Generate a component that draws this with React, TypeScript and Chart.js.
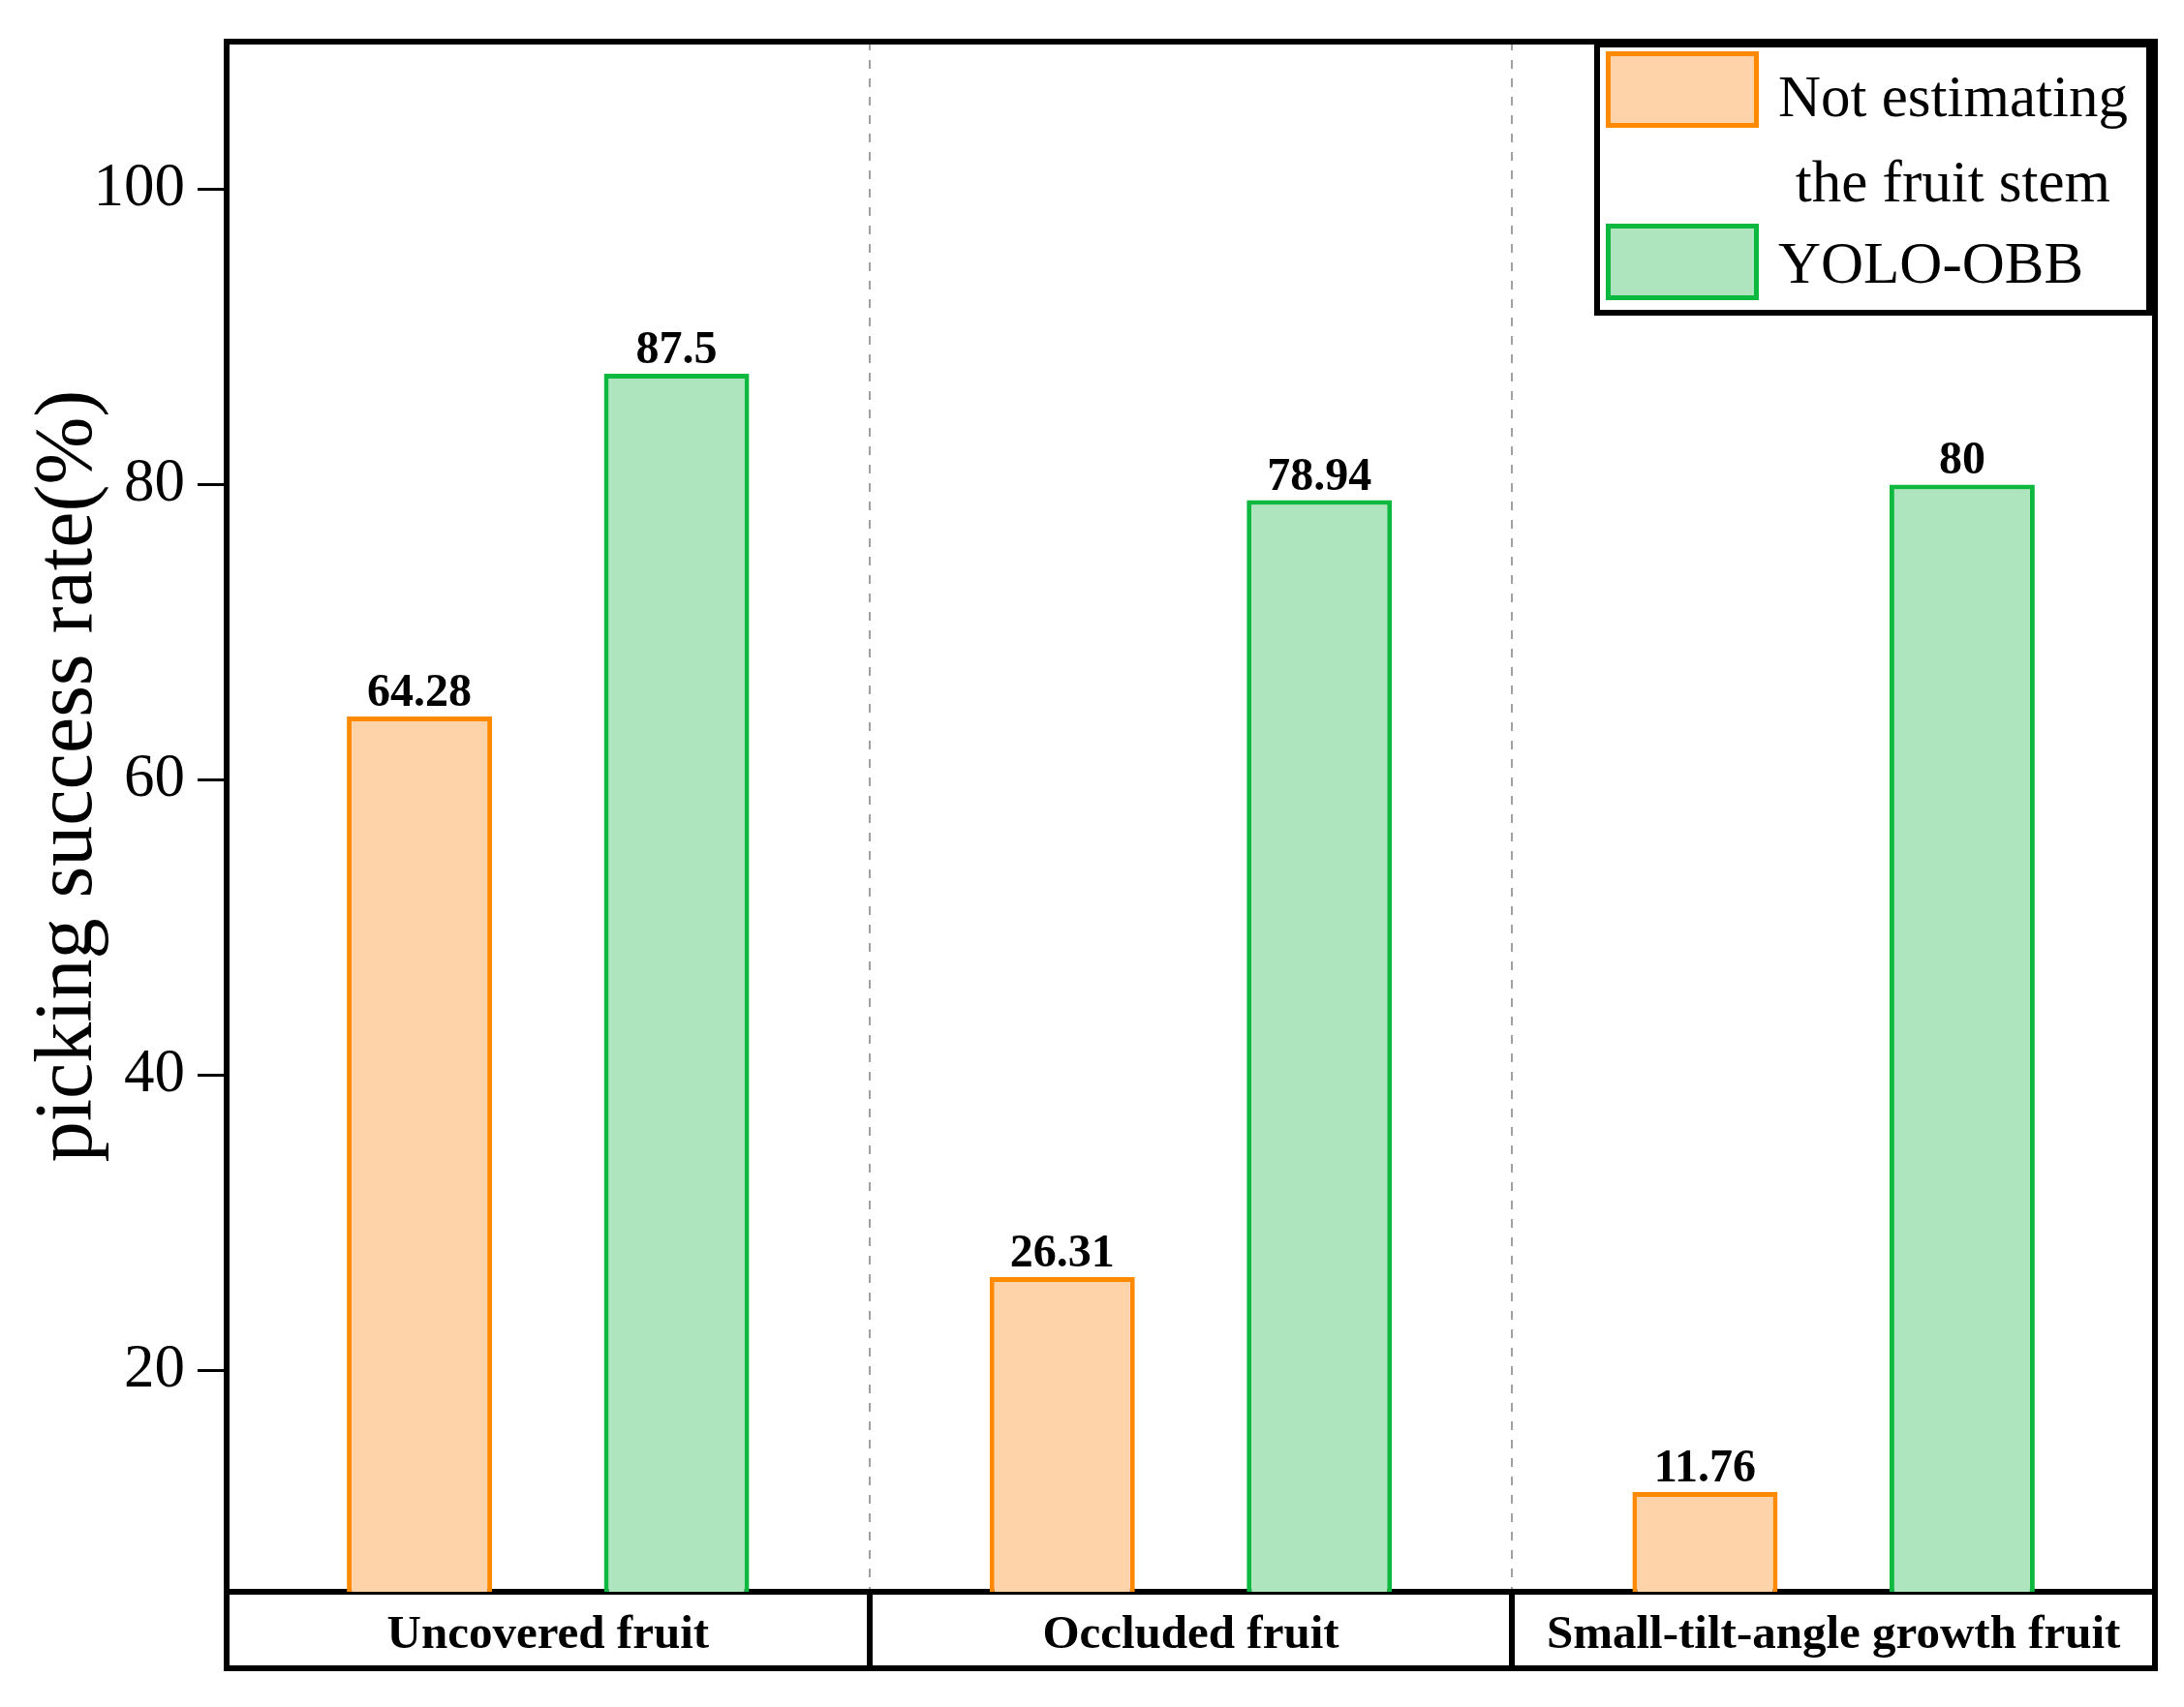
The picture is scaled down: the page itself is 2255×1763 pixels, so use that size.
import React, { useEffect, useRef } from "react";
import { Chart, registerables } from "chart.js";

Chart.register(...registerables);

// ---- data ----
const categories = ["Uncovered fruit", "Occluded fruit", "Small-tilt-angle growth fruit"];
const notEstimatingValues = [64.28, 26.31, 11.76];
const yoloObbValues = [87.5, 78.94, 80];
const seriesNames: string[][] = [["Not estimating", "the fruit stem"], ["YOLO-OBB"]];
const yTickValues = [20, 40, 60, 80, 100];
const yTitle = "picking success rate(%)";

const SERIF = "'Liberation Serif', 'Times New Roman', serif";
const ORANGE_BORDER = "#FF8A00";
const ORANGE_FILL = "#FED3AA";
const GREEN_BORDER = "#0DB83F";
const GREEN_FILL = "#AEE4BE";
const X_TICK_LEN = 79;

const framePlugin = {
  id: "frame",
  afterDraw(chart: any) {
    const { ctx, chartArea: a } = chart;
    const xs = chart.scales.x;
    const boxBottom = xs.top + X_TICK_LEN;
    ctx.save();
    ctx.strokeStyle = "#000";
    ctx.lineWidth = 6;
    ctx.lineCap = "square";
    ctx.beginPath();
    ctx.moveTo(a.left, a.top);
    ctx.lineTo(a.right, a.top);
    ctx.lineTo(a.right, boxBottom);
    ctx.lineTo(a.left, boxBottom);
    ctx.stroke();
    ctx.restore();
  },
};

const valueLabelPlugin = {
  id: "valueLabels",
  afterDatasetsDraw(chart: any) {
    const { ctx } = chart;
    ctx.save();
    ctx.fillStyle = "#000";
    ctx.font = `bold 48px ${SERIF}`;
    ctx.textAlign = "center";
    ctx.textBaseline = "alphabetic";
    chart.data.datasets.forEach((ds: any, di: number) => {
      const meta = chart.getDatasetMeta(di);
      meta.data.forEach((el: any, i: number) => {
        ctx.fillText(String(ds.data[i]), el.x, el.y - 11);
      });
    });
    ctx.restore();
  },
};

const legendPlugin = {
  id: "boxLegend",
  afterDraw(chart: any) {
    const { ctx, chartArea: a } = chart;
    const boxW = 570;
    const boxH = 277;
    const bx = a.right - 6 - boxW;
    const by = a.top + 3;
    ctx.save();
    ctx.fillStyle = "#fff";
    ctx.fillRect(bx, by, boxW, boxH);
    ctx.strokeStyle = "#000";
    ctx.lineWidth = 6;
    ctx.strokeRect(bx, by, boxW, boxH);
    const swX = bx + 9;
    const swW = 158;
    const swH = 79;
    const textX = swX + swW + 20;
    const rows = [
      { top: by + 7, baselines: [by + 74, by + 162] },
      { top: by + 185, baselines: [by + 246] },
    ];
    chart.data.datasets.forEach((ds: any, i: number) => {
      const r = rows[i];
      ctx.fillStyle = ds.backgroundColor;
      ctx.fillRect(swX, r.top, swW, swH);
      ctx.strokeStyle = ds.borderColor;
      ctx.lineWidth = 5;
      ctx.strokeRect(swX + 2.5, r.top + 2.5, swW - 5, swH - 5);
      ctx.fillStyle = "#000";
      ctx.font = `61px ${SERIF}`;
      ctx.textBaseline = "alphabetic";
      const lines = seriesNames[i];
      const widths = lines.map((l) => ctx.measureText(l).width);
      const maxW = Math.max(...widths);
      lines.forEach((l, li) => {
        ctx.textAlign = "left";
        const x = textX + (maxW - widths[li]) / 2;
        ctx.fillText(l, x, r.baselines[li]);
      });
    });
    ctx.restore();
  },
};

export default function App() {
  const ref = useRef<HTMLCanvasElement | null>(null);

  useEffect(() => {
    document.body.style.margin = "0";
    const canvas = ref.current;
    if (!canvas) return;
    const chart = new Chart(canvas, {
      type: "bar",
      data: {
        labels: categories,
        datasets: [
          {
            label: seriesNames[0].join(" "),
            data: notEstimatingValues,
            backgroundColor: ORANGE_FILL,
            borderColor: ORANGE_BORDER,
            borderWidth: 5,
            borderSkipped: false,
            categoryPercentage: 0.8,
            barPercentage: 0.565,
          },
          {
            label: seriesNames[1].join(" "),
            data: yoloObbValues,
            backgroundColor: GREEN_FILL,
            borderColor: GREEN_BORDER,
            borderWidth: 5,
            borderSkipped: false,
            categoryPercentage: 0.8,
            barPercentage: 0.565,
          },
        ],
      },
      options: {
        responsive: false,
        animation: false,
        devicePixelRatio: 1,
        layout: { padding: { top: 43, right: 30, left: 0, bottom: 16 } },
        plugins: {
          legend: { display: false },
          tooltip: { enabled: false },
        },
        scales: {
          x: {
            type: "category",
            grid: {
              offset: true,
              display: true,
              drawOnChartArea: true,
              color: "#a0a0a0",
              lineWidth: 2,
              drawTicks: true,
              tickLength: X_TICK_LEN,
              tickColor: "#000",
              tickWidth: 6,
              tickBorderDash: [],
            },
            border: { display: true, color: "#000", width: 6, dash: [9, 10] },
            ticks: {
              color: "#000",
              font: { family: SERIF, size: 49, weight: "bold" },
              padding: -63,
              maxRotation: 0,
              autoSkip: false,
            },
            afterFit: (s: any) => {
              s.height = 103;
            },
          },
          y: {
            type: "linear",
            min: 5,
            max: 110,
            afterBuildTicks: (s: any) => {
              s.ticks = yTickValues.map((v) => ({ value: v }));
            },
            grid: {
              display: true,
              drawOnChartArea: false,
              drawTicks: true,
              tickLength: 30,
              tickColor: "#000",
              tickWidth: 3,
            },
            border: { display: true, color: "#000", width: 6 },
            ticks: {
              color: "#000",
              font: { family: SERIF, size: 63 },
              padding: 13,
            },
            title: {
              display: true,
              text: "    " + yTitle,
              color: "#000",
              font: { family: SERIF, size: 84 },
              padding: { top: 22, bottom: 0 },
            },
            afterFit: (s: any) => {
              s.width = 234;
              s.paddingTop = 0;
              s.paddingBottom = 0;
            },
          },
        },
      },
      plugins: [valueLabelPlugin, framePlugin, legendPlugin],
    });
    return () => chart.destroy();
  }, []);

  return (
    <div style={{ width: 2255, height: 1763, background: "#fff" }}>
      <canvas ref={ref} width={2255} height={1763} style={{ display: "block", width: 2255, height: 1763 }} />
    </div>
  );
}
